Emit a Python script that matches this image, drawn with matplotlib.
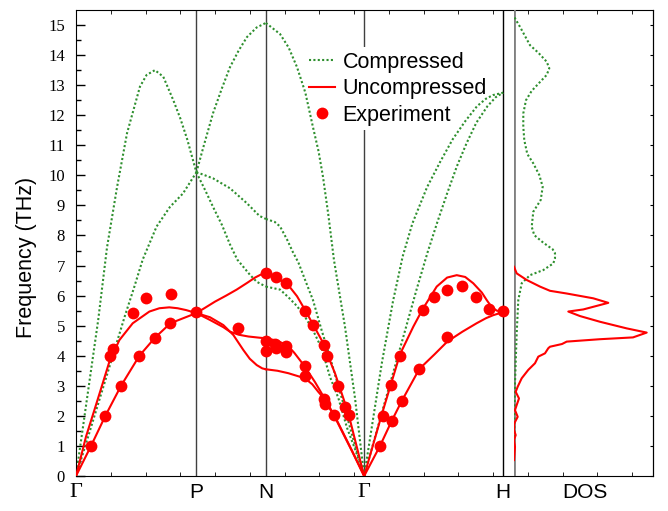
import numpy as np
import matplotlib
matplotlib.use("Agg")
from matplotlib import pyplot as plt

# high symmetry points along the path (bcc: G-P-N-G-H)
kpoints = [0.0, 0.866, 1.366, 2.073, 3.073]
klabels = ["\u0393", "P", "N", "\u0393", "H"]

# compressed (green, dotted) branches: (k, freq)
comp_gp_upper_k = [0, 0.08, 0.16, 0.223, 0.295, 0.367, 0.46, 0.508, 0.568, 0.628, 0.70, 0.75, 0.80, 0.866]
comp_gp_upper_f = [0, 2.6, 5.2, 7.6, 9.6, 11.4, 12.95, 13.34, 13.5, 13.28, 12.5, 11.9, 11.2, 10.1]
comp_gp_lower_k = [0, 0.1, 0.245, 0.35, 0.42, 0.48, 0.58, 0.676, 0.77, 0.866]
comp_gp_lower_f = [0, 1.5, 3.7, 5.3, 6.3, 7.2, 8.3, 8.95, 9.4, 10.1]
comp_pn_top_k = [0.866, 0.92, 0.986, 1.05, 1.108, 1.17, 1.23, 1.30, 1.366]
comp_pn_top_f = [10.1, 11.0, 12.07, 12.9, 13.6, 14.15, 14.6, 14.92, 15.07]
comp_ng_top_k = [1.366, 1.468, 1.53, 1.59, 1.65, 1.705, 1.745, 1.777, 1.815, 1.856, 1.935, 2.007, 2.073]
comp_ng_top_f = [15.07, 14.7, 14.25, 13.6, 12.75, 11.6, 10.8, 9.95, 8.7, 7.18, 4.97, 2.6, 0]
comp_pn_mid_k = [0.866, 0.90, 0.986, 1.108, 1.23, 1.32, 1.366]
comp_pn_mid_f = [10.1, 10.05, 9.9, 9.57, 9.07, 8.65, 8.55]
comp_ng_mid_k = [1.366, 1.43, 1.468, 1.52, 1.56, 1.60, 1.65, 1.705, 1.767, 1.827, 1.89, 1.95, 2.01, 2.073]
comp_ng_mid_f = [8.55, 8.45, 8.3, 7.85, 7.45, 7.1, 6.5, 5.85, 4.85, 3.95, 2.95, 1.97, 0.98, 0]
comp_pn_low_k = [0.866, 0.93, 0.986, 1.05, 1.108, 1.16, 1.25, 1.30, 1.366]
comp_pn_low_f = [10.1, 9.5, 8.95, 8.35, 7.7, 7.2, 6.7, 6.46, 6.3]
comp_ng_low_k = [1.366, 1.468, 1.527, 1.59, 1.647, 1.705, 1.767, 1.827, 1.887, 1.95, 2.007, 2.073]
comp_ng_low_f = [6.3, 6.2, 5.95, 5.65, 5.3, 4.85, 4.25, 3.3, 2.6, 1.6, 0.9, 0]
comp_gh_upper_k = [2.073, 2.2, 2.28, 2.35, 2.42, 2.525, 2.62, 2.71, 2.80, 2.885, 2.95, 3.0, 3.073]
comp_gh_upper_f = [0, 3.75, 5.8, 7.3, 8.4, 9.6, 10.45, 11.2, 11.8, 12.3, 12.55, 12.67, 12.75]
comp_gh_lower_k = [2.073, 2.2, 2.35, 2.45, 2.53, 2.6, 2.67, 2.74, 2.81, 2.88, 2.96, 3.02, 3.073]
comp_gh_lower_f = [0, 2.1, 4.55, 6.2, 7.45, 8.45, 9.4, 10.3, 11.07, 11.75, 12.3, 12.6, 12.75]

# uncompressed (red, solid) branches
unc_gp_upper_k = [0, 0.036, 0.072, 0.132, 0.192, 0.24, 0.312, 0.408, 0.528, 0.6, 0.671, 0.731, 0.791, 0.866]
unc_gp_upper_f = [0, 0.65, 1.31, 2.19, 3.08, 3.8, 4.52, 5.08, 5.47, 5.58, 5.61, 5.58, 5.52, 5.42]
unc_gp_lower_k = [0, 0.108, 0.211, 0.324, 0.456, 0.568, 0.679, 0.767, 0.866]
unc_gp_lower_f = [0, 1.0, 2.0, 3.0, 4.0, 4.6, 5.08, 5.24, 5.42]
unc_pn_top_k = [0.866, 0.93, 1.0, 1.08, 1.156, 1.23, 1.288, 1.33, 1.366]
unc_pn_top_f = [5.42, 5.6, 5.8, 6.0, 6.2, 6.42, 6.6, 6.7, 6.74]
unc_ng_top_k = [1.366, 1.437, 1.527, 1.59, 1.647, 1.767, 1.863, 1.959, 2.02, 2.073]
unc_ng_top_f = [6.74, 6.6, 6.35, 5.98, 5.53, 4.52, 3.42, 2.09, 0.97, 0]
unc_pn_mid_k = [0.866, 0.964, 1.06, 1.108, 1.17, 1.24, 1.32, 1.366]
unc_pn_mid_f = [5.42, 5.19, 4.95, 4.8, 4.7, 4.64, 4.6, 4.58]
unc_ng_mid_k = [1.366, 1.45, 1.527, 1.57, 1.62, 1.67, 1.72, 1.767, 1.863, 1.984, 2.073]
unc_ng_mid_f = [4.58, 4.5, 4.32, 4.1, 3.8, 3.47, 3.12, 2.75, 1.98, 0.86, 0]
unc_pn_low_k = [0.866, 0.964, 1.06, 1.132, 1.204, 1.25, 1.30, 1.34, 1.366]
unc_pn_low_f = [5.42, 5.28, 5.02, 4.69, 4.19, 3.9, 3.69, 3.58, 3.55]
unc_ng_low_k = [1.366, 1.45, 1.527, 1.647, 1.70, 1.743, 1.78, 1.863, 1.984, 2.073]
unc_ng_low_f = [3.55, 3.5, 3.42, 3.25, 3.05, 2.8, 2.6, 1.95, 0.84, 0]
unc_gh_upper_k = [2.073, 2.2, 2.331, 2.427, 2.494, 2.595, 2.67, 2.739, 2.8, 2.858, 2.92, 2.955, 2.99, 3.027, 3.073]
unc_gh_upper_f = [0, 2.05, 4.05, 4.97, 5.55, 6.3, 6.6, 6.68, 6.62, 6.41, 6.1, 5.85, 5.62, 5.5, 5.47]
unc_gh_lower_k = [2.073, 2.187, 2.271, 2.343, 2.47, 2.58, 2.671, 2.78, 2.882, 2.95, 3.002, 3.073]
unc_gh_lower_f = [0, 1.0, 1.83, 2.49, 3.56, 4.05, 4.47, 4.8, 5.08, 5.25, 5.35, 5.45]

# experimental points
exp_k = [0.108, 0.211, 0.324, 0.456, 0.568, 0.679, 0.866, 0.245, 0.264, 0.408, 0.504, 0.681,
         1.168,
         1.367, 1.437, 1.509, 1.367, 1.367, 1.432, 1.437, 1.509, 1.509,
         1.647, 1.703, 1.786, 1.803, 1.647, 1.647, 1.887, 1.786, 1.791, 1.935, 1.856, 1.966,
         2.187, 2.211, 2.271, 2.343, 2.264, 2.331, 2.47, 2.494, 2.576, 2.671, 2.779, 2.878,
         2.973, 3.074, 2.671]
exp_f = [1.0, 2.0, 3.0, 4.0, 4.6, 5.08, 5.47, 4.0, 4.22, 5.41, 5.91, 6.05,
         4.91,
         6.76, 6.61, 6.41, 4.5, 4.17, 4.4, 4.25, 4.32, 4.14,
         5.5, 5.01, 4.35, 3.99, 3.66, 3.34, 3.0, 2.55, 2.38, 2.3, 2.02, 2.02,
         1.0, 2.0, 1.83, 2.49, 3.03, 3.99, 3.56, 5.52, 5.94, 6.2, 6.32, 5.96,
         5.54, 5.5, 4.61]

# density of states (arbitrary units)
dos_unc_f = [0.53, 0.97, 1.2, 1.36, 1.53, 1.75, 1.97, 2.19, 2.36, 2.58, 2.8, 2.97, 3.25, 3.53,
             3.75, 3.97, 4.08, 4.25, 4.3, 4.39, 4.47, 4.55, 4.61, 4.77, 4.91, 5.13, 5.32, 5.47,
             5.54, 5.76, 5.91, 6.07, 6.16, 6.3, 6.52, 6.74, 6.96]
dos_unc_v = [0, 1, 0, 1.7, 0, 0.3, 3.7, 1, 2.7, 5, 1.7, 3.7, 7.7, 14.3,
             21, 24.3, 31, 34.3, 36, 48, 52.7, 86, 119, 132.7, 112.7, 86, 66, 54.3,
             69.3, 94.3, 79.3, 52.7, 36, 26, 12.7, 2.7, 0]
dos_comp_f = [0.86, 3.09, 4.75, 5.85, 6.41, 6.68, 6.85, 7.07, 7.24, 7.41, 7.54, 7.76, 8.01, 8.29,
              8.79, 9.18, 9.62, 10.01, 10.4, 10.71, 11.17, 11.62, 12.06, 12.5, 12.81, 13.08,
              13.34, 13.56, 13.78, 14.08, 14.33, 14.94, 15.28]
dos_comp_v = [0, 1, 2.7, 4.3, 7.7, 16, 29.3, 39.3, 41, 41, 38.7, 29.3, 20.3, 17.7,
              19.3, 26.7, 28.7, 25.3, 19.3, 13.3, 10.3, 9.3, 9.3, 12, 17.7, 25.3,
              32.7, 35.3, 32.7, 24.3, 16, 6, 0]

GREEN = "#2e8f2e"
RED = "#ff0000"

comp_branches = [
    (comp_gp_upper_k, comp_gp_upper_f), (comp_gp_lower_k, comp_gp_lower_f),
    (comp_pn_top_k, comp_pn_top_f), (comp_ng_top_k, comp_ng_top_f),
    (comp_pn_mid_k, comp_pn_mid_f), (comp_ng_mid_k, comp_ng_mid_f),
    (comp_pn_low_k, comp_pn_low_f), (comp_ng_low_k, comp_ng_low_f),
    (comp_gh_upper_k, comp_gh_upper_f), (comp_gh_lower_k, comp_gh_lower_f),
]
unc_branches = [
    (unc_gp_upper_k, unc_gp_upper_f), (unc_gp_lower_k, unc_gp_lower_f),
    (unc_pn_top_k, unc_pn_top_f), (unc_ng_top_k, unc_ng_top_f),
    (unc_pn_mid_k, unc_pn_mid_f), (unc_ng_mid_k, unc_ng_mid_f),
    (unc_pn_low_k, unc_pn_low_f), (unc_ng_low_k, unc_ng_low_f),
    (unc_gh_upper_k, unc_gh_upper_f), (unc_gh_lower_k, unc_gh_lower_f),
]

fig = plt.figure(figsize=(6.68, 5.11), dpi=100)
ax = fig.add_axes([76 / 668, 1 - 476 / 511, 577 / 668, 466 / 511])
x_end = 577 / 139
dos_start = 3.151
ax.set_xlim(0, x_end)
ax.set_ylim(0, 15.5)

# vertical separators
for k in kpoints[1:4]:
    ax.axvline(k, color="#404040", lw=1.0, zorder=1)
ax.axvline(kpoints[4], color="black", lw=1.0, zorder=1)

h_comp = None
for i, (k, f) in enumerate(comp_branches):
    line, = ax.plot(k, f, color=GREEN, lw=1.5, dashes=(1, 1.1), zorder=2)
    if i == 0:
        h_comp = line
h_unc = None
for i, (k, f) in enumerate(unc_branches):
    line, = ax.plot(k, f, color=RED, lw=1.5, zorder=3)
    if i == 0:
        h_unc = line
h_exp, = ax.plot(exp_k, exp_f, "o", color=RED, ms=8.5, mec="none", zorder=4, clip_on=False)

# DOS panel on the right
ax_dos = ax.inset_axes([dos_start, 0, x_end - dos_start, 1], transform=ax.get_xaxis_transform())
ax_dos.set_xlim(0, 139)
ax_dos.set_ylim(0, 15.5)
ax_dos.axis("off")
ax_dos.patch.set_alpha(0)
ax_dos.axvline(0, color="#808080", lw=2.0, zorder=1)
ax_dos.plot(dos_unc_v, dos_unc_f, color=RED, lw=1.5, zorder=3)
ax_dos.plot(dos_comp_v, dos_comp_f, color=GREEN, lw=1.5, dashes=(1, 1.1), zorder=2)

# ticks
ax.set_xticks(kpoints + [3.66])
ax.set_xticklabels(klabels + ["DOS"])
ax.set_xticks(np.arange(0.25, x_end, 0.25), minor=True)
ax.tick_params(axis="x", which="major", length=0, pad=5, labelsize=15)
ax.tick_params(axis="x", which="minor", direction="in", length=3, top=True, bottom=True)
for lbl in ax.get_xticklabels():
    if lbl.get_text() == "\u0393":
        lbl.set_fontfamily("Liberation Serif")
        lbl.set_fontsize(16)
    else:
        lbl.set_fontfamily("Liberation Sans")

ax.set_yticks(np.arange(0, 16, 1))
ax.set_yticks(np.arange(0.5, 15.5, 1), minor=True)
ax.tick_params(axis="y", which="major", direction="in", length=6.5, width=1, pad=8, labelsize=12)
ax.tick_params(axis="y", which="minor", direction="in", length=3.6, width=1)
for lbl in ax.get_yticklabels():
    lbl.set_fontfamily("Liberation Serif")

sec = ax.secondary_yaxis("right")
sec.set_yticks(np.arange(0, 16, 1))
sec.tick_params(direction="in", length=2.5, labelright=False)

ax.set_ylabel("Frequency (THz)", fontsize=15.5, family="Liberation Sans")
ax.yaxis.set_label_coords(-0.068, 0.47)

# legend sits above the separator lines but under the curves
leg = ax.legend([h_comp, h_unc, h_exp], ["Compressed", "Uncompressed", "Experiment"],
                loc="upper left", bbox_to_anchor=(0.397, 0.92), frameon=True,
                prop={"family": "Liberation Sans", "size": 15.5},
                handlelength=1.2, handletextpad=0.35, labelspacing=0.26, borderpad=0.2,
                borderaxespad=0, fancybox=False)
leg.get_frame().set_edgecolor("none")
leg.get_frame().set_facecolor("white")
leg.get_frame().set_alpha(1)
leg.set_zorder(1.5)

fig.savefig("out.png", dpi=100)
